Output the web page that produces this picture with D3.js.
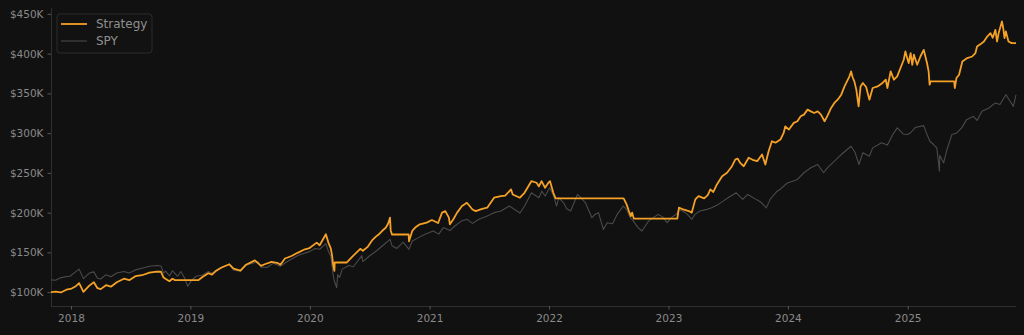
<!DOCTYPE html>
<html>
<head>
<meta charset="utf-8">
<script src="https://cdn.jsdelivr.net/npm/d3@7"></script>
<style>
  html, body { margin: 0; padding: 0; background: #111111; }
  svg { display: block; font-family: "DejaVu Sans", sans-serif; }
</style>
</head>
<body>
<svg id="chart" width="1024" height="335"></svg>
<script>
// equity curves, values in $K
var strategy = [
  ["2017-11-01",100.0],["2017-11-15",100.6],["2017-12-01",99.6],["2017-12-18",103.1],["2018-01-03",104.6],
  ["2018-01-16",107.5],["2018-01-26",111.3],["2018-02-08",100.4],["2018-02-26",108.2],["2018-03-12",112.5],
  ["2018-03-23",105.0],["2018-04-02",103.8],["2018-04-18",108.8],["2018-05-03",106.9],["2018-05-21",112.5],
  ["2018-06-12",116.9],["2018-06-28",115.1],["2018-07-17",120.1],["2018-08-06",121.3],["2018-08-29",124.5],
  ["2018-09-20",125.7],["2018-10-03",125.7],["2018-10-11",118.4],["2018-10-19",116.3],["2018-10-29",113.8],
  ["2018-11-07",116.9],["2018-11-15",115.1],["2019-01-25",115.1],["2019-02-08",119.4],["2019-02-25",123.8],
  ["2019-03-08",122.0],["2019-03-21",127.0],["2019-04-05",130.7],["2019-04-30",135.1],["2019-05-13",129.5],
  ["2019-06-03",127.0],["2019-06-20",134.5],["2019-07-17",140.0],["2019-08-05",133.0],["2019-08-16",135.1],
  ["2019-09-06",138.0],["2019-09-26",136.4],["2019-10-03",134.5],["2019-10-17",142.3],["2019-11-06",145.5],
  ["2019-11-26",149.8],["2019-12-17",153.9],["2019-12-31",155.5],["2020-01-22",162.3],["2020-01-31",159.0],
  ["2020-02-19",172.8],["2020-02-27",162.0],["2020-03-05",155.0],["2020-03-09",146.0],["2020-03-12",135.0],
  ["2020-03-16",126.7],["2020-03-17",137.3],["2020-04-23",137.3],["2020-05-01",141.0],["2020-05-13",146.0],
  ["2020-06-03",154.5],["2020-06-11",152.0],["2020-06-26",157.0],["2020-07-09",165.0],["2020-07-20",169.5],
  ["2020-07-30",172.8],["2020-08-10",177.5],["2020-08-20",181.0],["2020-08-27",186.0],["2020-09-02",193.7],
  ["2020-09-04",178.0],["2020-09-08",172.5],["2020-10-29",172.5],["2020-10-30",164.0],["2020-11-09",177.0],
  ["2020-11-18",181.2],["2020-12-02",185.3],["2020-12-23",187.4],["2021-01-08",190.7],["2021-01-27",187.0],
  ["2021-02-08",200.0],["2021-02-18",202.0],["2021-03-01",193.7],["2021-03-04",185.3],["2021-03-15",192.0],
  ["2021-03-26",200.0],["2021-04-10",208.3],["2021-04-25",212.5],["2021-05-12",204.0],["2021-05-22",202.0],
  ["2021-06-08",204.5],["2021-06-26",206.3],["2021-07-17",218.8],["2021-08-07",220.8],["2021-08-20",221.5],
  ["2021-09-07",229.2],["2021-09-12",222.9],["2021-10-04",218.8],["2021-10-18",225.0],["2021-11-08",239.6],
  ["2021-11-24",237.6],["2021-12-01",233.0],["2021-12-09",239.6],["2021-12-20",231.3],["2021-12-30",237.6],
  ["2022-01-04",239.6],["2022-01-14",225.0],["2022-01-21",217.9],["2022-08-17",217.9],["2022-08-26",210.4],
  ["2022-09-02",202.0],["2022-09-08",195.7],["2022-09-12",200.0],["2022-09-17",192.5],["2023-01-28",192.5],
  ["2023-02-02",206.3],["2023-02-15",204.0],["2023-03-04",202.0],["2023-03-13",200.0],["2023-03-24",216.7],
  ["2023-04-03",220.8],["2023-04-20",218.0],["2023-05-01",222.0],["2023-05-09",229.2],["2023-05-18",226.0],
  ["2023-05-29",235.5],["2023-06-14",245.9],["2023-06-29",250.2],["2023-07-14",258.4],["2023-07-24",266.8],
  ["2023-07-31",268.0],["2023-08-08",262.7],["2023-08-19",258.4],["2023-09-03",269.0],["2023-09-15",266.5],
  ["2023-09-29",264.7],["2023-10-14",273.1],["2023-10-24",260.6],["2023-11-03",277.3],["2023-11-13",289.8],
  ["2023-11-24",288.0],["2023-12-09",291.9],["2023-12-19",300.3],["2023-12-24",308.6],["2024-01-04",304.5],
  ["2024-01-19",312.9],["2024-01-30",314.9],["2024-02-09",321.2],["2024-02-19",323.3],["2024-03-01",329.6],
  ["2024-03-11",327.4],["2024-03-21",325.4],["2024-04-01",327.4],["2024-04-11",323.3],["2024-04-22",314.9],
  ["2024-05-01",322.0],["2024-05-12",331.7],["2024-05-22",338.0],["2024-06-01",342.1],["2024-06-12",348.4],
  ["2024-06-22",358.8],["2024-07-07",371.4],["2024-07-12",377.6],["2024-07-17",370.0],["2024-07-22",365.1],
  ["2024-07-28",354.7],["2024-08-04",333.7],["2024-08-10",358.8],["2024-08-17",363.1],["2024-08-27",358.0],
  ["2024-09-06",342.1],["2024-09-16",356.8],["2024-10-01",358.8],["2024-10-16",363.1],["2024-10-26",367.2],
  ["2024-10-31",356.8],["2024-11-10",377.6],["2024-11-20",367.2],["2024-11-30",371.4],["2024-12-10",381.9],
  ["2024-12-20",392.3],["2024-12-25",402.7],["2024-12-30",395.0],["2025-01-04",388.2],["2025-01-10",400.7],
  ["2025-01-15",386.0],["2025-01-20",398.6],["2025-01-30",386.0],["2025-02-09",396.4],["2025-02-19",404.8],
  ["2025-03-01",388.2],["2025-03-06",377.6],["2025-03-09",361.0],["2025-03-12",365.1],["2025-05-23",365.1],
  ["2025-05-25",356.8],["2025-05-30",369.3],["2025-06-07",373.5],["2025-06-17",390.2],["2025-07-02",394.4],
  ["2025-07-17",396.4],["2025-07-27",400.7],["2025-08-01",409.0],["2025-08-12",412.0],["2025-08-22",415.3],
  ["2025-09-01",421.5],["2025-09-11",425.8],["2025-09-18",420.0],["2025-09-26",429.9],["2025-10-01",415.3],
  ["2025-10-06",425.8],["2025-10-16",440.4],["2025-10-20",432.0],["2025-10-24",419.5],["2025-10-28",428.0],
  ["2025-11-05",415.3],["2025-11-15",413.2],["2025-11-28",413.2]
];

var spy = [
  ["2017-11-01",115.4],["2017-11-15",115.0],["2017-11-30",118.0],["2017-12-15",119.5],["2017-12-29",120.0],
  ["2018-01-12",124.5],["2018-01-26",129.0],["2018-02-08",117.0],["2018-02-26",124.0],["2018-03-12",125.5],
  ["2018-03-23",117.5],["2018-04-02",116.5],["2018-04-18",122.0],["2018-05-03",119.5],["2018-05-21",124.0],
  ["2018-06-12",126.0],["2018-06-28",124.0],["2018-07-17",128.0],["2018-08-06",130.0],["2018-08-29",132.5],
  ["2018-09-20",133.5],["2018-10-03",133.0],["2018-10-11",124.0],["2018-10-17",126.5],["2018-10-29",120.5],
  ["2018-11-07",127.0],["2018-11-23",120.0],["2018-12-03",126.0],["2018-12-14",118.0],["2018-12-24",107.5],
  ["2019-01-04",114.5],["2019-01-18",120.0],["2019-02-08",121.5],["2019-02-25",126.0],["2019-03-08",123.5],
  ["2019-03-21",128.0],["2019-04-05",131.0],["2019-04-30",135.0],["2019-05-13",127.5],["2019-06-03",126.5],
  ["2019-06-20",134.0],["2019-07-26",138.5],["2019-08-05",131.5],["2019-08-23",131.0],["2019-09-12",136.5],
  ["2019-10-02",132.5],["2019-10-28",139.5],["2019-11-27",146.5],["2019-12-31",151.0],["2020-01-17",155.0],
  ["2020-01-31",154.0],["2020-02-19",161.0],["2020-02-27",151.0],["2020-03-05",145.5],["2020-03-09",133.0],
  ["2020-03-12",122.5],["2020-03-16",114.0],["2020-03-23",105.5],["2020-03-26",122.0],["2020-04-01",118.5],
  ["2020-04-09",129.0],["2020-04-29",133.5],["2020-05-13",132.0],["2020-06-08",146.0],["2020-06-11",138.5],
  ["2020-07-01",145.5],["2020-07-22",151.8],["2020-08-12",159.0],["2020-09-02",166.5],["2020-09-08",158.5],
  ["2020-09-23",155.0],["2020-10-12",163.0],["2020-10-30",153.9],["2020-11-09",164.4],["2020-11-28",168.6],
  ["2020-12-18",172.8],["2021-01-12",176.9],["2021-01-29",173.0],["2021-02-12",181.2],["2021-03-04",177.5],
  ["2021-03-19",183.2],["2021-04-08",189.4],["2021-04-26",191.6],["2021-05-12",186.5],["2021-06-01",191.6],
  ["2021-06-26",195.7],["2021-07-17",200.0],["2021-08-07",202.0],["2021-09-02",208.3],["2021-10-04",199.5],
  ["2021-10-18",208.0],["2021-11-08",225.0],["2021-12-01",218.8],["2021-12-10",227.0],["2021-12-20",221.0],
  ["2022-01-03",231.3],["2022-01-14",222.0],["2022-01-24",208.3],["2022-01-31",218.8],["2022-02-15",212.0],
  ["2022-02-24",205.0],["2022-03-08",202.0],["2022-03-29",222.9],["2022-04-22",212.5],["2022-05-12",193.7],
  ["2022-05-22",198.0],["2022-06-01",200.0],["2022-06-16",179.0],["2022-06-28",187.4],["2022-07-14",186.0],
  ["2022-07-28",197.8],["2022-08-16",208.3],["2022-08-26",204.1],["2022-09-06",193.7],["2022-09-13",191.0],
  ["2022-09-30",181.2],["2022-10-12",176.9],["2022-10-22",183.2],["2022-11-01",189.4],["2022-11-30",197.8],
  ["2022-12-13",195.0],["2022-12-28",187.4],["2023-01-10",193.7],["2023-01-27",199.0],["2023-02-02",204.1],
  ["2023-02-13",202.0],["2023-02-28",197.8],["2023-03-13",191.6],["2023-03-23",197.8],["2023-04-07",202.0],
  ["2023-04-28",204.1],["2023-05-13",206.3],["2023-06-02",210.4],["2023-06-17",214.5],["2023-07-02",218.8],
  ["2023-07-27",225.0],["2023-08-16",216.8],["2023-08-31",222.9],["2023-09-26",216.7],["2023-10-11",213.0],
  ["2023-10-27",206.0],["2023-11-08",217.0],["2023-11-29",227.0],["2023-12-09",229.5],["2023-12-29",237.0],
  ["2024-01-30",241.8],["2024-02-19",250.2],["2024-03-11",256.4],["2024-04-01",260.6],["2024-04-19",250.2],
  ["2024-05-02",257.0],["2024-05-22",264.7],["2024-06-12",273.1],["2024-07-12",283.5],["2024-07-24",276.0],
  ["2024-08-05",260.6],["2024-08-17",275.3],["2024-09-06",271.0],["2024-09-16",281.5],["2024-10-13",287.8],
  ["2024-10-31",285.0],["2024-11-16",298.0],["2024-11-30",306.6],["2024-12-18",299.0],["2024-12-31",298.2],
  ["2025-01-10",300.5],["2025-01-24",307.0],["2025-02-19",309.5],["2025-03-01",298.2],["2025-03-10",289.8],
  ["2025-03-21",285.7],["2025-03-31",281.5],["2025-04-04",266.8],["2025-04-08",252.2],["2025-04-09",272.0],
  ["2025-04-21",262.7],["2025-05-01",279.4],["2025-05-16",298.2],["2025-05-31",300.3],["2025-06-15",306.6],
  ["2025-06-30",317.0],["2025-07-21",321.2],["2025-08-01",316.0],["2025-08-16",327.4],["2025-09-06",331.7],
  ["2025-09-26",338.0],["2025-10-10",336.0],["2025-10-28",348.4],["2025-11-07",342.0],["2025-11-20",333.7],
  ["2025-11-28",348.0]
];

var yearTicks = [2018, 2019, 2020, 2021, 2022, 2023, 2024, 2025];
var valueTicks = [100, 150, 200, 250, 300, 350, 400, 450];
var seriesNames = ["Strategy", "SPY"];

window.onload = function () {
  var margin = {top: 8, right: 8, bottom: 29, left: 51};
  var width = 1024 - margin.left - margin.right;
  var height = 335 - margin.top - margin.bottom;
  var parse = d3.timeParse("%Y-%m-%d");

  var stratData = strategy.map(function (d) { return {date: parse(d[0]), value: d[1]}; });
  var spyData = spy.map(function (d) { return {date: parse(d[0]), value: d[1]}; });

  var x = d3.scaleTime()
      .domain([parse("2017-11-01"), parse("2025-11-28")])
      .range([0, width]);
  var y = d3.scaleLinear()
      .domain([82.6, 457.4])
      .range([height, 0]);

  var svg = d3.select("#chart");
  svg.append("rect")
      .attr("width", 1024)
      .attr("height", 335)
      .attr("fill", "#111111");

  var chart = svg.append("g")
      .attr("transform", "translate(" + margin.left + "," + margin.top + ")");

  var xAxis = chart.append("g")
      .attr("transform", "translate(0," + height + ")")
      .call(d3.axisBottom(x)
        .tickValues(yearTicks.map(function (yr) { return new Date(yr, 0, 1); }))
        .tickFormat(d3.timeFormat("%Y"))
        .tickSize(3.5)
        .tickPadding(5));
  var yAxis = chart.append("g")
      .call(d3.axisLeft(y)
        .tickValues(valueTicks)
        .tickFormat(function (d) { return "$" + d + "K"; })
        .tickSize(3.5)
        .tickPadding(4));

  [xAxis, yAxis].forEach(function (ax) {
    ax.select(".domain").attr("stroke", "#2f2f2f").attr("stroke-width", 1);
    ax.selectAll(".tick line").attr("stroke", "#6a6a6a").attr("stroke-width", 0.8);
    ax.selectAll(".tick text")
      .attr("fill", "#8a8a8a")
      .style("font-size", "10.5px")
      .style("font-family", "DejaVu Sans, sans-serif");
  });
  // only the left and bottom spines, flat ends
  yAxis.select(".domain").attr("d", "M0.5," + height + "V0");
  xAxis.select(".domain").attr("d", "M0,0.5H" + width);

  var line = d3.line()
      .x(function (d) { return x(d.date); })
      .y(function (d) { return y(d.value); });

  chart.append("path")
      .datum(spyData)
      .attr("fill", "none")
      .attr("stroke", "#4a4a4a")
      .attr("stroke-width", 1.1)
      .attr("stroke-linejoin", "round")
      .attr("d", line);

  chart.append("path")
      .datum(stratData)
      .attr("fill", "none")
      .attr("stroke", "#f5a126")
      .attr("stroke-width", 1.8)
      .attr("stroke-linejoin", "round")
      .attr("d", line);

  // legend
  var legend = chart.append("g")
      .attr("transform", "translate(6,6)");
  legend.append("rect")
      .attr("width", 95)
      .attr("height", 39)
      .attr("rx", 3)
      .attr("fill", "#121212")
      .attr("stroke", "#333333")
      .attr("stroke-width", 0.8);
  var colors = ["#f5a126", "#4a4a4a"];
  var widths = [1.8, 1.1];
  seriesNames.forEach(function (name, i) {
    var row = legend.append("g")
        .attr("transform", "translate(0," + (10 + i * 17) + ")");
    row.append("line")
        .attr("x1", 4).attr("x2", 30)
        .attr("stroke", colors[i])
        .attr("stroke-width", widths[i]);
    row.append("text")
        .attr("x", 39)
        .attr("dy", "0.35em")
        .attr("fill", "#8f8f8f")
        .style("font-size", "12px")
        .text(name);
  });
};
</script>
</body>
</html>
